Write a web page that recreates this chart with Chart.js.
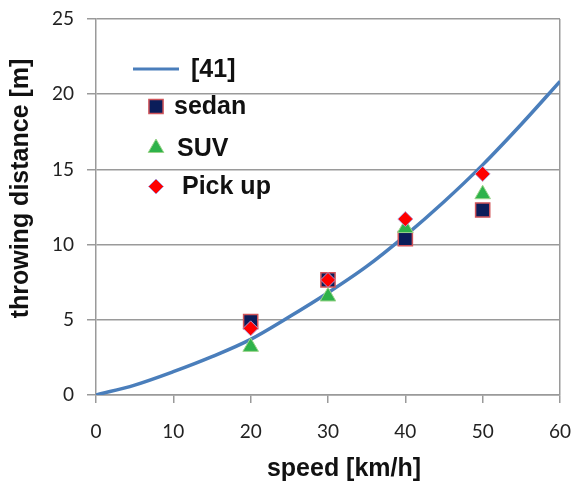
<!DOCTYPE html>
<html>
<head>
<meta charset="utf-8">
<script src="https://cdn.jsdelivr.net/npm/chart.js@4/dist/chart.umd.min.js"></script>
<style>
  html, body { margin: 0; padding: 0; background: #fff; }
  #wrap { width: 572px; height: 483px; }
</style>
</head>
<body>
<div id="wrap"><canvas id="chart" width="572" height="483"></canvas></div>
<script>
// values
const curveSpeed = [0, 5, 10, 15, 20, 25, 30, 35, 40, 45, 50, 55, 60]
const curveDist  = [0, 0.66, 1.55, 2.55, 3.7, 5.2, 6.8, 8.55, 10.6, 12.85, 15.3, 18.0, 20.85]

const testSpeed  = [20, 30, 40, 50]
const sedanDist  = [4.88, 7.65, 10.4, 12.3]
const suvDist    = [3.2, 6.55, 11.1, 13.35]
const pickupDist = [4.43, 7.65, 11.7, 14.7]

const xTicks = [0, 10, 20, 30, 40, 50, 60]
const yTicks = [0, 5, 10, 15, 20, 25]

const xTitle = 'speed [km/h]'
const yTitle = 'throwing distance [m]'

function pts(xs, ys){
  return xs.map((x, i) => ({x: x, y: ys[i]}))
}

//legend + axis titles drawn by hand (excel style placement)
const legendPos = [
  {mx: 156, y: 69, tx: 191},
  {mx: 156, y: 106.5, tx: 174},
  {mx: 156, y: 148, tx: 177},
  {mx: 156, y: 186.5, tx: 182}
]

const excelBits = {
  id: 'excelBits',
  afterDraw(chart){
    const ctx = chart.ctx
    ctx.save()
    ctx.font = 'bold 25px "Liberation Sans", Arial, sans-serif'
    ctx.textBaseline = 'middle'
    ctx.textAlign = 'left'
    chart.data.datasets.forEach((ds, i) => {
      let p = legendPos[i]
      if(ds.showLine){
        ctx.strokeStyle = ds.borderColor
        ctx.lineWidth = 3
        ctx.beginPath()
        ctx.moveTo(133, p.y)
        ctx.lineTo(179, p.y)
        ctx.stroke()
      } else {
        ctx.fillStyle = ds.pointBackgroundColor
        ctx.strokeStyle = ds.pointBorderColor
        ctx.lineWidth = ds.pointBorderWidth
        Chart.helpers.drawPoint(ctx, {
          pointStyle: ds.pointStyle,
          radius: ds.pointRadius,
          rotation: 0,
          borderWidth: ds.pointBorderWidth
        }, p.mx, p.y)
      }
      ctx.fillStyle = '#111'
      ctx.fillText(ds.label, p.tx, p.y + 1)
    })

    // axis titles
    ctx.fillStyle = '#111'
    ctx.textAlign = 'center'
    ctx.textBaseline = 'alphabetic'
    ctx.fillText(xTitle, 344, 475.5)
    ctx.translate(27.5, 188.5)
    ctx.rotate(-Math.PI/2)
    ctx.fillText(yTitle, 0, 0)
    ctx.restore()
  }
}

let chartElement = document.getElementById('chart')
let chart = new Chart(chartElement, {
  type: 'scatter',
  data: {
    datasets: [
      {
        label: '[41]',
        data: pts(curveSpeed, curveDist),
        showLine: true,
        borderColor: '#4a7ebb',
        borderWidth: 3.5,
        pointRadius: 0,
        cubicInterpolationMode: 'monotone',
        order: 4
      },
      {
        label: 'sedan',
        data: pts(testSpeed, sedanDist),
        pointStyle: 'rect',
        pointRadius: 10,
        pointBackgroundColor: '#0b1d5a',
        pointBorderColor: '#d0545a',
        pointBorderWidth: 1.5,
        order: 3
      },
      {
        label: 'SUV',
        data: pts(testSpeed, suvDist),
        pointStyle: 'triangle',
        pointRadius: 9,
        pointBackgroundColor: '#2eb24a',
        pointBorderColor: '#9ad48a',
        pointBorderWidth: 1,
        order: 2
      },
      {
        label: 'Pick up',
        data: pts(testSpeed, pickupDist),
        pointStyle: 'rectRot',
        pointRadius: 7.5,
        pointBackgroundColor: '#ff0000',
        pointBorderColor: '#b59ad0',
        pointBorderWidth: 1,
        order: 1
      }
    ]
  },
  options: {
    responsive: false,
    animation: false,
    layout: { padding: {top: 19, right: 12, left: 0, bottom: 0} },
    plugins: {
      legend: { display: false },
      tooltip: { enabled: false }
    },
    scales: {
      x: {
        type: 'linear',
        min: 0,
        max: 60,
        afterFit: s => { s.height = 88; s.paddingLeft = 0; s.paddingRight = 0 },
        afterBuildTicks: s => { s.ticks = xTicks.map(v => ({value: v})) },
        ticks: {
          color: '#222',
          font: {family: 'Lato', size: 19},
          padding: 17,
          maxRotation: 0
        },
        grid: {
          color: c => (c.tick && c.tick.value === 60) ? '#9a9a9a' : 'rgba(0,0,0,0)',
          tickColor: '#9a9a9a',
          tickLength: 8,
          lineWidth: 1.5
        },
        border: { color: '#9a9a9a', width: 1.5 }
      },
      y: {
        min: 0,
        max: 25,
        afterFit: s => { s.width = 96; s.paddingTop = 0; s.paddingBottom = 0 },
        afterBuildTicks: s => { s.ticks = yTicks.map(v => ({value: v})) },
        ticks: {
          color: '#222',
          font: {family: 'Lato', size: 19},
          padding: 13
        },
        grid: {
          color: '#9a9a9a',
          tickLength: 9,
          lineWidth: 1.5
        },
        border: { color: '#9a9a9a', width: 1.5 }
      }
    }
  },
  plugins: [excelBits]
})
</script>
</body>
</html>
